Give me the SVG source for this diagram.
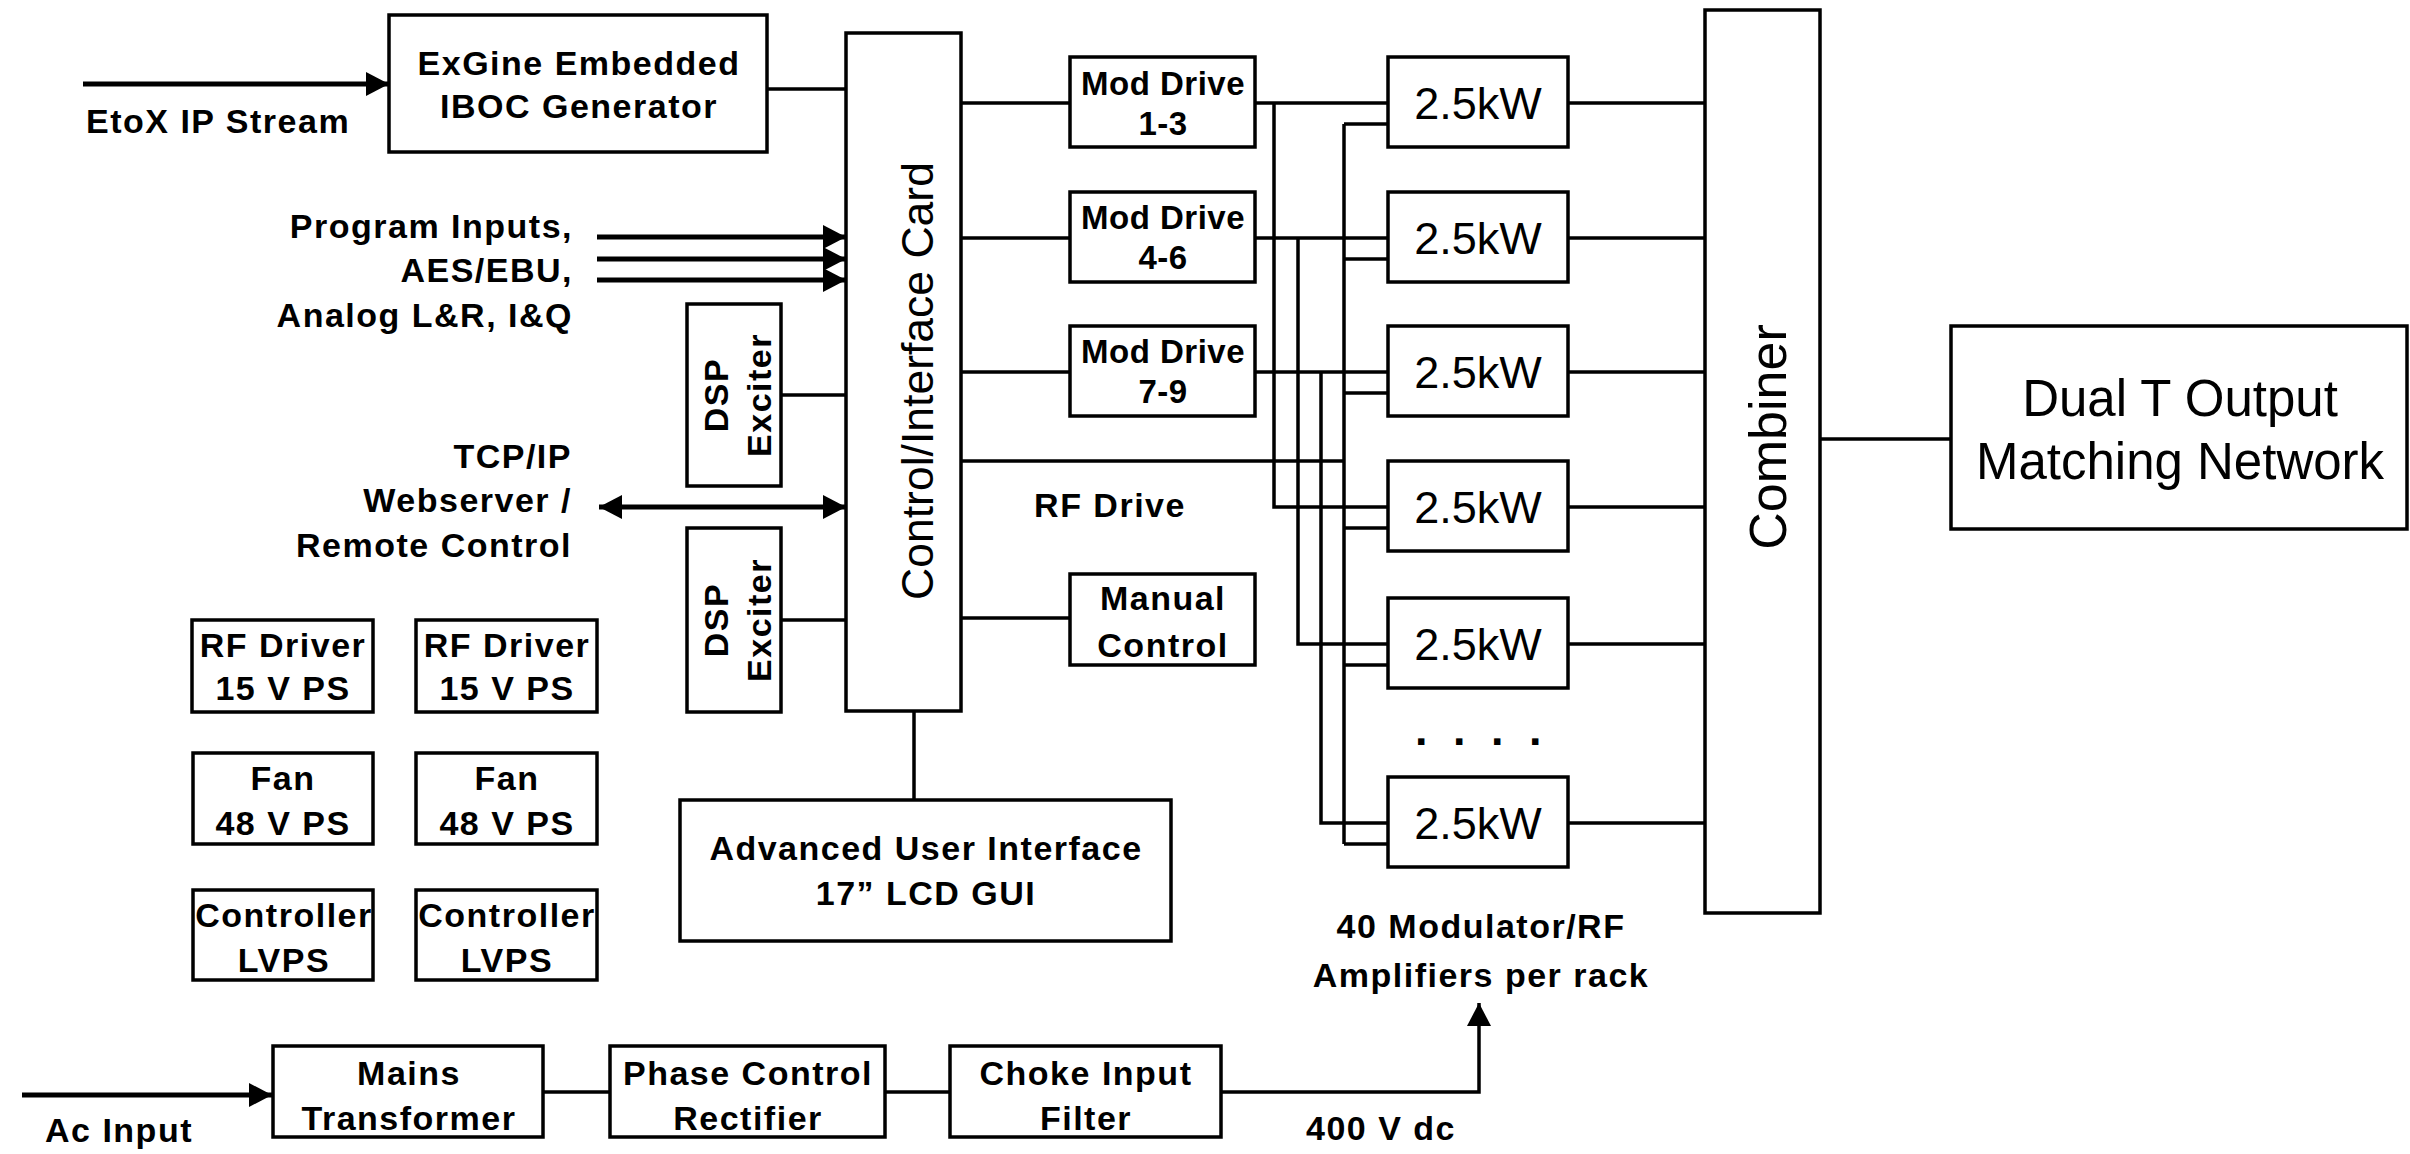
<svg xmlns="http://www.w3.org/2000/svg" width="2410" height="1154" viewBox="0 0 2410 1154">
<style>
.box{fill:#fff;stroke:#000;stroke-width:3.5}
.ln{stroke:#000;stroke-width:3.5;fill:none}
.ar{stroke:#000;stroke-width:5;fill:none}
.b{font-family:"Liberation Sans",Arial,sans-serif;font-weight:bold;font-size:34px;letter-spacing:1.5px;fill:#000}
.md{font-size:33px;letter-spacing:0.5px}
.r{font-family:"Liberation Sans",Arial,sans-serif;font-size:45px;fill:#000}
.m{text-anchor:middle}
.e{text-anchor:end}
</style>
<defs>
<marker id="ah" markerUnits="userSpaceOnUse" markerWidth="24" markerHeight="24" refX="23" refY="12" orient="auto-start-reverse" viewBox="0 0 24 24">
<path d="M0,0 L23,12 L0,24 z" fill="#000"/>
</marker>
</defs>
<rect width="2410" height="1154" fill="#fff"/>
<g id="connectors">
<line class="ar" x1="83" y1="84" x2="389" y2="84" marker-end="url(#ah)"/>
<line class="ln" x1="767" y1="89" x2="846" y2="89"/>
<line class="ar" x1="597" y1="237" x2="846" y2="237" marker-end="url(#ah)"/>
<line class="ar" x1="597" y1="259" x2="846" y2="259" marker-end="url(#ah)"/>
<line class="ar" x1="597" y1="280" x2="846" y2="280" marker-end="url(#ah)"/>
<line class="ar" x1="599" y1="507" x2="846" y2="507" marker-start="url(#ah)" marker-end="url(#ah)"/>
<line class="ln" x1="781" y1="395" x2="846" y2="395"/>
<line class="ln" x1="781" y1="620" x2="846" y2="620"/>
<line class="ln" x1="914" y1="711" x2="914" y2="800"/>
<line class="ln" x1="961" y1="103" x2="1070" y2="103"/>
<line class="ln" x1="961" y1="238" x2="1070" y2="238"/>
<line class="ln" x1="961" y1="372" x2="1070" y2="372"/>
<line class="ln" x1="958" y1="618" x2="1070" y2="618"/>
<line class="ln" x1="961" y1="461" x2="1344" y2="461"/>
<line class="ln" x1="1255" y1="103" x2="1388" y2="103"/>
<line class="ln" x1="1255" y1="238" x2="1388" y2="238"/>
<line class="ln" x1="1255" y1="372" x2="1388" y2="372"/>
<polyline class="ln" points="1274,103 1274,507 1388,507"/>
<polyline class="ln" points="1298,238 1298,644 1388,644"/>
<polyline class="ln" points="1321,372 1321,823 1388,823"/>
<line class="ln" x1="1344" y1="124" x2="1344" y2="844"/>
<line class="ln" x1="1344" y1="124" x2="1388" y2="124"/>
<line class="ln" x1="1344" y1="259" x2="1388" y2="259"/>
<line class="ln" x1="1344" y1="393" x2="1388" y2="393"/>
<line class="ln" x1="1344" y1="528" x2="1388" y2="528"/>
<line class="ln" x1="1344" y1="665" x2="1388" y2="665"/>
<line class="ln" x1="1344" y1="844" x2="1388" y2="844"/>
<line class="ln" x1="1568" y1="103" x2="1705" y2="103"/>
<line class="ln" x1="1568" y1="238" x2="1705" y2="238"/>
<line class="ln" x1="1568" y1="372" x2="1705" y2="372"/>
<line class="ln" x1="1568" y1="507" x2="1705" y2="507"/>
<line class="ln" x1="1568" y1="644" x2="1705" y2="644"/>
<line class="ln" x1="1568" y1="823" x2="1705" y2="823"/>
<line class="ln" x1="1820" y1="439" x2="1951" y2="439"/>
<line class="ar" x1="22" y1="1095" x2="272" y2="1095" marker-end="url(#ah)"/>
<line class="ln" x1="543" y1="1092" x2="610" y2="1092"/>
<line class="ln" x1="885" y1="1092" x2="950" y2="1092"/>
<polyline class="ln" points="1221,1092 1479,1092 1479,1003" marker-end="url(#ah)"/>
</g>
<g id="labels">
<text class="b" x="86" y="133">EtoX IP Stream</text>
<text class="b e" x="573" y="238">Program Inputs,</text>
<text class="b e" x="573" y="282">AES/EBU,</text>
<text class="b e" x="573" y="327">Analog L&amp;R, I&amp;Q</text>
<text class="b e" x="572" y="468">TCP/IP</text>
<text class="b e" x="572" y="512">Webserver /</text>
<text class="b e" x="572" y="557">Remote Control</text>
<text class="b m" x="1110" y="517">RF Drive</text>
<text class="b" x="45" y="1142">Ac Input</text>
<text class="b" x="1306" y="1140">400 V dc</text>
<text class="b m" x="1481" y="938">40 Modulator/RF</text>
<text class="b m" x="1481" y="987">Amplifiers per rack</text>
<text class="b" x="1415" y="745" style="font-size:45px;letter-spacing:25.5px">....</text>
</g>
<g id="exgine">
<rect class="box" x="389" y="15" width="378" height="137"/>
<text class="b m" x="579" y="75">ExGine Embedded</text>
<text class="b m" x="579" y="118">IBOC Generator</text>
</g>
<g id="control-card">
<rect class="box" x="846" y="33" width="115" height="678"/>
<text class="r m" transform="translate(933,381) rotate(-90)" style="font-size:44.5px">Control/Interface Card</text>
</g>
<g id="dsp1">
<rect class="box" x="687" y="304" width="94" height="182"/>
<text class="b m" transform="translate(728,395) rotate(-90)">DSP</text>
<text class="b m" transform="translate(771,395) rotate(-90)">Exciter</text>
</g>
<g id="dsp2">
<rect class="box" x="687" y="528" width="94" height="184"/>
<text class="b m" transform="translate(728,620) rotate(-90)">DSP</text>
<text class="b m" transform="translate(771,620) rotate(-90)">Exciter</text>
</g>
<g id="rfps1">
<rect class="box" x="192" y="620" width="181" height="92"/>
<text class="b m" x="283" y="657">RF Driver</text>
<text class="b m" x="283" y="700">15 V PS</text>
</g>
<g id="rfps2">
<rect class="box" x="416" y="620" width="181" height="92"/>
<text class="b m" x="507" y="657">RF Driver</text>
<text class="b m" x="507" y="700">15 V PS</text>
</g>
<g id="fan1">
<rect class="box" x="193" y="753" width="180" height="91"/>
<text class="b m" x="283" y="790">Fan</text>
<text class="b m" x="283" y="835">48 V PS</text>
</g>
<g id="fan2">
<rect class="box" x="416" y="753" width="181" height="91"/>
<text class="b m" x="507" y="790">Fan</text>
<text class="b m" x="507" y="835">48 V PS</text>
</g>
<g id="ctrl1">
<rect class="box" x="193" y="890" width="180" height="90"/>
<text class="b m" x="284" y="927">Controller</text>
<text class="b m" x="284" y="972">LVPS</text>
</g>
<g id="ctrl2">
<rect class="box" x="416" y="890" width="181" height="90"/>
<text class="b m" x="507" y="927">Controller</text>
<text class="b m" x="507" y="972">LVPS</text>
</g>
<g id="aui">
<rect class="box" x="680" y="800" width="491" height="141"/>
<text class="b m" x="926" y="860">Advanced User Interface</text>
<text class="b m" x="926" y="905">17” LCD GUI</text>
</g>
<g id="mod1">
<rect class="box" x="1070" y="57" width="185" height="90"/>
<text class="b md m" x="1163" y="95">Mod Drive</text>
<text class="b md m" x="1163" y="135">1-3</text>
</g>
<g id="mod2">
<rect class="box" x="1070" y="192" width="185" height="90"/>
<text class="b md m" x="1163" y="229">Mod Drive</text>
<text class="b md m" x="1163" y="269">4-6</text>
</g>
<g id="mod3">
<rect class="box" x="1070" y="326" width="185" height="90"/>
<text class="b md m" x="1163" y="363">Mod Drive</text>
<text class="b md m" x="1163" y="403">7-9</text>
</g>
<g id="manual">
<rect class="box" x="1070" y="574" width="185" height="91"/>
<text class="b m" x="1163" y="610">Manual</text>
<text class="b m" x="1163" y="657">Control</text>
</g>
<g id="amp1">
<rect class="box" x="1388" y="57" width="180" height="90"/>
<text class="r m" x="1478" y="119">2.5kW</text>
</g>
<g id="amp2">
<rect class="box" x="1388" y="192" width="180" height="90"/>
<text class="r m" x="1478" y="254">2.5kW</text>
</g>
<g id="amp3">
<rect class="box" x="1388" y="326" width="180" height="90"/>
<text class="r m" x="1478" y="388">2.5kW</text>
</g>
<g id="amp4">
<rect class="box" x="1388" y="461" width="180" height="90"/>
<text class="r m" x="1478" y="523">2.5kW</text>
</g>
<g id="amp5">
<rect class="box" x="1388" y="598" width="180" height="90"/>
<text class="r m" x="1478" y="660">2.5kW</text>
</g>
<g id="amp6">
<rect class="box" x="1388" y="777" width="180" height="90"/>
<text class="r m" x="1478" y="839">2.5kW</text>
</g>
<g id="combiner">
<rect class="box" x="1705" y="10" width="115" height="903"/>
<text class="r m" transform="translate(1786,437) rotate(-90)" style="font-size:52px">Combiner</text>
</g>
<g id="dualt">
<rect class="box" x="1951" y="326" width="456" height="203"/>
<text class="r m" x="2180" y="416" style="font-size:51px">Dual T Output</text>
<text class="r m" x="2180" y="479" style="font-size:51px">Matching Network</text>
</g>
<g id="mains">
<rect class="box" x="273" y="1046" width="270" height="91"/>
<text class="b m" x="409" y="1085">Mains</text>
<text class="b m" x="409" y="1130">Transformer</text>
</g>
<g id="phase">
<rect class="box" x="610" y="1046" width="275" height="91"/>
<text class="b m" x="748" y="1085">Phase Control</text>
<text class="b m" x="748" y="1130">Rectifier</text>
</g>
<g id="choke">
<rect class="box" x="950" y="1046" width="271" height="91"/>
<text class="b m" x="1086" y="1085">Choke Input</text>
<text class="b m" x="1086" y="1130">Filter</text>
</g>
</svg>
